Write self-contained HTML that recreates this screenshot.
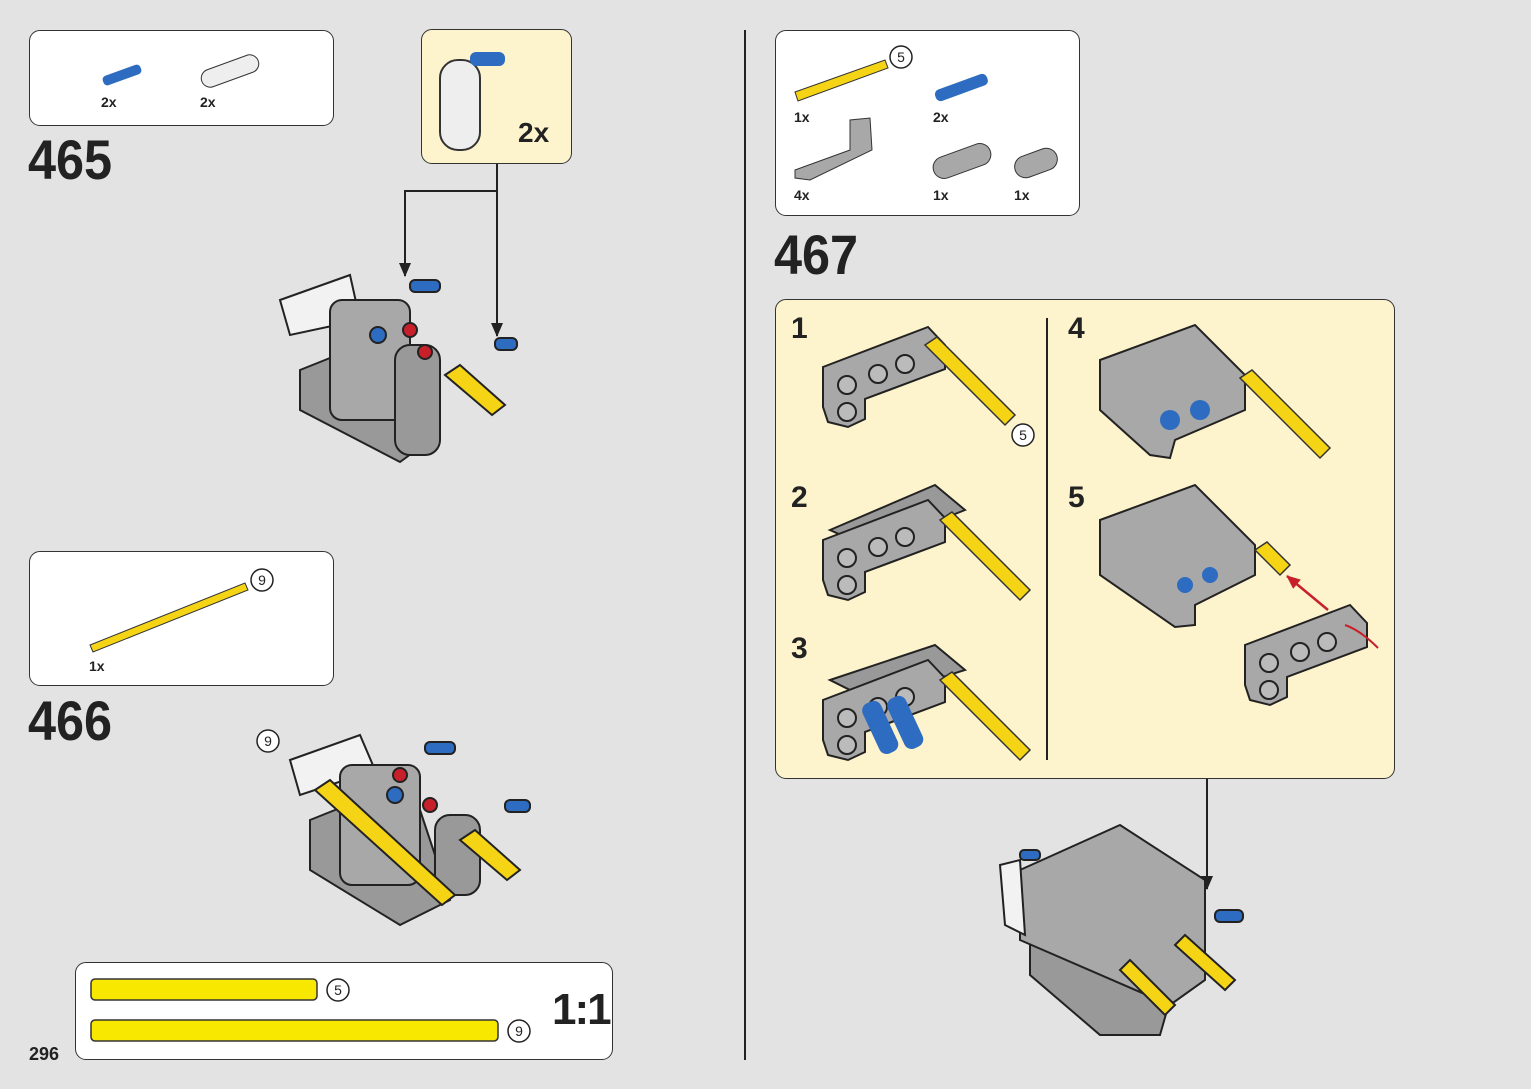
<!DOCTYPE html>
<html><head><meta charset="utf-8"><style>
body{margin:0;width:1531px;height:1089px;background:#e3e3e3;position:relative;overflow:hidden;font-family:"Liberation Sans",sans-serif;}
.box{position:absolute;background:#fff;border:1.5px solid #333;border-radius:11px;box-sizing:border-box;}
.num{position:absolute;font-weight:bold;font-size:56px;color:#222;transform:scaleX(0.9);transform-origin:left top;line-height:1.15;}
.t{position:absolute;font-weight:bold;font-size:14px;color:#222;}
.s{position:absolute;font-weight:bold;font-size:30px;color:#222;line-height:1.15;}
svg{position:absolute;left:0;top:0;}
</style></head><body>
<div class="box" style="left:29px;top:30px;width:305px;height:96px"></div>
<div class="box" style="left:421px;top:29px;width:151px;height:135px;background:#fdf3cc"></div>
<div class="box" style="left:29px;top:551px;width:305px;height:135px"></div>
<div class="box" style="left:75px;top:962px;width:538px;height:98px"></div>
<div class="box" style="left:775px;top:30px;width:305px;height:186px"></div>
<div class="box" style="left:775px;top:299px;width:620px;height:480px;background:#fdf3cc"></div>
<div class="num" style="left:28px;top:128px">465</div>
<div class="num" style="left:28px;top:689px">466</div>
<div class="num" style="left:774px;top:223px">467</div>
<div class="t" style="left:29px;top:1044px;font-size:18px">296</div>
<div class="t" style="left:101px;top:94px">2x</div>
<div class="t" style="left:200px;top:94px">2x</div>
<div class="t" style="left:518px;top:117px;font-size:28px">2x</div>
<div class="t" style="left:89px;top:658px">1x</div>
<div class="t" style="left:794px;top:109px">1x</div>
<div class="t" style="left:933px;top:109px">2x</div>
<div class="t" style="left:794px;top:187px">4x</div>
<div class="t" style="left:933px;top:187px">1x</div>
<div class="t" style="left:1014px;top:187px">1x</div>
<div class="t" style="left:552px;top:985px;font-size:44px;letter-spacing:-2px">1:1</div>
<div class="s" style="left:791px;top:312px">1</div>
<div class="s" style="left:791px;top:481px">2</div>
<div class="s" style="left:791px;top:632px">3</div>
<div class="s" style="left:1068px;top:312px">4</div>
<div class="s" style="left:1068px;top:481px">5</div>
<svg width="1531" height="1089" viewBox="0 0 1531 1089">
<defs>
<marker id="ah" markerWidth="14" markerHeight="12" refX="13" refY="6" orient="auto" markerUnits="userSpaceOnUse"><path d="M0,0 L14,6 L0,12Z" fill="#222"/></marker>
<marker id="ahr" markerWidth="14" markerHeight="12" refX="13" refY="6" orient="auto" markerUnits="userSpaceOnUse"><path d="M0,0 L14,6 L0,12Z" fill="#c8202a"/></marker>
<g id="lb"><path d="M0,40 L105,0 L122,18 L122,42 L42,72 L42,92 L25,100 L5,95 L0,80Z" fill="#a8a8a8" stroke="#222" stroke-width="2"/>
<circle cx="24" cy="58" r="9" fill="#bbb" stroke="#222" stroke-width="2"/><circle cx="55" cy="47" r="9" fill="#bbb" stroke="#222" stroke-width="2"/><circle cx="82" cy="37" r="9" fill="#bbb" stroke="#222" stroke-width="2"/><circle cx="24" cy="85" r="9" fill="#bbb" stroke="#222" stroke-width="2"/></g>
<g id="ax"><path d="M0,0 L12,-8 L90,70 L80,80Z" fill="#f5d416" stroke="#333" stroke-width="1.5"/></g>
</defs>
<g fill="none" stroke="#222" stroke-width="2">
<line x1="745" y1="30" x2="745" y2="1060"/>
<line x1="1047" y1="318" x2="1047" y2="760"/>
<polyline points="497,164 497,191 405,191 405,276" marker-end="url(#ah)"/>
<line x1="497" y1="191" x2="497" y2="336" marker-end="url(#ah)"/>
<line x1="1207" y1="779" x2="1207" y2="889" marker-end="url(#ah)"/>
</g>
<rect x="91" y="979" width="226" height="21" rx="4" fill="#f8e800" stroke="#333" stroke-width="1.5"/>
<rect x="91" y="1020" width="407" height="21" rx="4" fill="#f8e800" stroke="#333" stroke-width="1.5"/>
<g fill="#fff" stroke="#222" stroke-width="1.5">
<circle cx="338" cy="990" r="11"/><circle cx="519" cy="1031" r="11"/>
<circle cx="262" cy="580" r="11"/><circle cx="901" cy="57" r="11"/><circle cx="1023" cy="435" r="11"/><circle cx="268" cy="741" r="11"/>
</g>
<g font-size="14" font-family="Liberation Sans" fill="#222" text-anchor="middle">
<text x="338" y="995">5</text><text x="519" y="1036">9</text><text x="262" y="585">9</text><text x="901" y="62">5</text><text x="1023" y="440">5</text><text x="268" y="746">9</text></g>
<path d="M90,645 L245,583 L248,590 L93,652Z" fill="#f5d416" stroke="#333"/>
<path d="M795,92 L885,60 L888,68 L798,101Z" fill="#f5d416" stroke="#333"/>
<rect x="102" y="70" width="40" height="10" rx="4" fill="#2d6cc0" transform="rotate(-20 122 75)"/>
<rect x="934" y="82" width="55" height="12" rx="5" fill="#2d6cc0" transform="rotate(-20 960 88)"/>
<rect x="200" y="62" width="60" height="18" rx="9" fill="#eee" stroke="#333" transform="rotate(-20 230 71)"/>
<path d="M795,170 L850,150 L850,120 L870,118 L872,150 L810,180 L795,178Z" fill="#a8a8a8" stroke="#333"/>
<rect x="932" y="150" width="60" height="22" rx="11" fill="#a8a8a8" stroke="#333" transform="rotate(-20 962 161)"/>
<rect x="1014" y="152" width="44" height="22" rx="11" fill="#a8a8a8" stroke="#333" transform="rotate(-20 1036 163)"/>
<rect x="440" y="60" width="40" height="90" rx="18" fill="#eee" stroke="#333" stroke-width="2"/>
<rect x="470" y="52" width="35" height="14" rx="6" fill="#2d6cc0"/>
<use href="#lb" x="823" y="327"/><use href="#ax" x="925" y="345"/>
<path d="M830,530 L935,485 L965,510 L870,548Z" fill="#999" stroke="#222" stroke-width="2"/>
<use href="#lb" x="823" y="500"/><use href="#ax" x="940" y="520"/>
<path d="M830,680 L935,645 L965,670 L870,700Z" fill="#999" stroke="#222" stroke-width="2"/>
<use href="#lb" x="823" y="660"/><use href="#ax" x="940" y="680"/>
<rect x="870" y="700" width="20" height="55" rx="8" fill="#2d6cc0" transform="rotate(-25 880 727)"/>
<rect x="895" y="695" width="20" height="55" rx="8" fill="#2d6cc0" transform="rotate(-25 905 722)"/>
<path d="M1100,360 L1195,325 L1245,375 L1245,410 L1175,440 L1170,458 L1150,455 L1100,410Z" fill="#a8a8a8" stroke="#222" stroke-width="2"/>
<use href="#ax" x="1240" y="378"/>
<circle cx="1170" cy="420" r="10" fill="#2d6cc0"/><circle cx="1200" cy="410" r="10" fill="#2d6cc0"/>
<path d="M1100,520 L1195,485 L1255,545 L1255,575 L1195,605 L1195,625 L1175,627 L1100,575Z" fill="#a8a8a8" stroke="#222" stroke-width="2"/>
<path d="M1255,550 L1267,542 L1290,565 L1280,575Z" fill="#f5d416" stroke="#333" stroke-width="1.5"/>
<circle cx="1185" cy="585" r="8" fill="#2d6cc0"/><circle cx="1210" cy="575" r="8" fill="#2d6cc0"/>
<use href="#lb" x="1245" y="605"/>
<path d="M1378,648 Q1360,630 1345,625" fill="none" stroke="#c8202a" stroke-width="2"/>
<line x1="1328" y1="610" x2="1287" y2="576" stroke="#c8202a" stroke-width="2.5" marker-end="url(#ahr)"/>
<g stroke="#222" stroke-width="2">
<path d="M300,370 L400,330 L430,440 L400,462 L300,410Z" fill="#999"/>
<path d="M280,300 L350,275 L360,320 L290,335Z" fill="#f2f2f2"/>
<rect x="330" y="300" width="80" height="120" rx="12" fill="#a8a8a8"/>
<rect x="395" y="345" width="45" height="110" rx="15" fill="#999"/>
<circle cx="378" cy="335" r="8" fill="#2d6cc0"/><circle cx="410" cy="330" r="7" fill="#c8202a"/><circle cx="425" cy="352" r="7" fill="#c8202a"/>
<path d="M445,375 L460,365 L505,405 L492,415Z" fill="#f5d416"/>
<rect x="410" y="280" width="30" height="12" rx="5" fill="#2d6cc0"/><rect x="495" y="338" width="22" height="12" rx="5" fill="#2d6cc0"/>
<path d="M310,820 L410,780 L450,900 L400,925 L310,870Z" fill="#999"/>
<path d="M290,760 L360,735 L375,770 L300,795Z" fill="#f2f2f2"/>
<rect x="340" y="765" width="80" height="120" rx="12" fill="#a8a8a8"/>
<rect x="435" y="815" width="45" height="80" rx="15" fill="#999"/>
<path d="M315,790 L330,780 L455,895 L442,905Z" fill="#f5d416"/>
<path d="M460,840 L475,830 L520,870 L507,880Z" fill="#f5d416"/>
<circle cx="395" cy="795" r="8" fill="#2d6cc0"/><circle cx="400" cy="775" r="7" fill="#c8202a"/><circle cx="430" cy="805" r="7" fill="#c8202a"/>
<rect x="505" y="800" width="25" height="12" rx="5" fill="#2d6cc0"/><rect x="425" y="742" width="30" height="12" rx="5" fill="#2d6cc0"/>
<path d="M1030,945 L1100,920 L1170,1000 L1160,1035 L1100,1035 L1030,975Z" fill="#999"/>
<path d="M1020,870 L1120,825 L1205,880 L1205,980 L1170,1005 L1020,940Z" fill="#a8a8a8"/>
<path d="M1000,865 L1020,860 L1025,935 L1005,925Z" fill="#f2f2f2"/>
<path d="M1120,970 L1130,960 L1175,1005 L1165,1015Z" fill="#f5d416"/>
<path d="M1175,945 L1185,935 L1235,980 L1225,990Z" fill="#f5d416"/>
<rect x="1215" y="910" width="28" height="12" rx="5" fill="#2d6cc0"/><rect x="1020" y="850" width="20" height="10" rx="4" fill="#2d6cc0"/>
</g>
</svg>
</body></html>
